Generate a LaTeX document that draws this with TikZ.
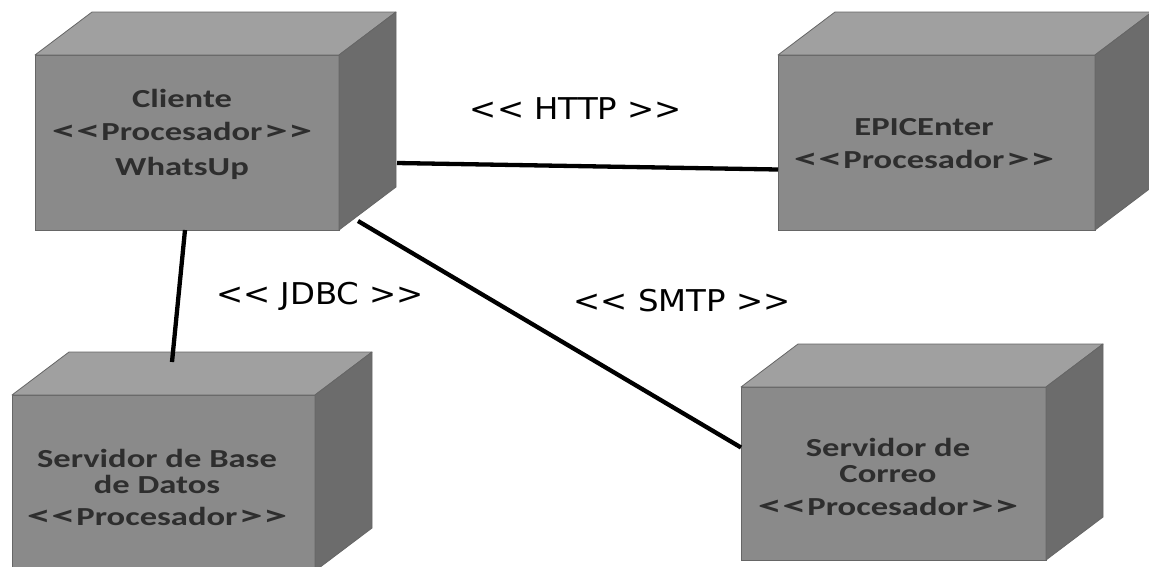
\documentclass[tikz,border=0pt]{standalone}
\usepackage{fontspec}
\usepackage{graphicx}
\usetikzlibrary{calc}
\newfontfamily\boxfont{Carlito}[FakeStretch=1.33]
\newfontfamily\tagfont{DejaVu Sans}[FakeStretch=1.08]
% keep << and >> as two separate glyphs (no guillemet mapping)
\newcommand\ltlt{<\kern0pt<}
\newcommand\gtgt{>\kern0pt>}
% wider chevrons for the block captions
\newcommand\boxlt{\scalebox{1.4}[1.1]{<}\kern0.5pt\scalebox{1.4}[1.1]{<}\kern1pt}
\newcommand\boxgt{\kern1pt\scalebox{1.4}[1.1]{>}\kern0.5pt\scalebox{1.4}[1.1]{>}}
\definecolor{frontgray}{HTML}{8A8A8A}
\definecolor{topgray}{HTML}{A0A0A0}
\definecolor{sidegray}{HTML}{6C6C6C}
\definecolor{edgegray}{HTML}{666666}
\definecolor{inkgray}{HTML}{2E2E2E}
\tikzset{
  front/.style={rectangle, fill=frontgray, draw=edgegray, line width=0.8pt,
    inner sep=0pt, outer sep=0pt},
  topface/.style={fill=topgray, draw=edgegray, line width=0.8pt, line join=round},
  sideface/.style={fill=sidegray, draw=edgegray, line width=0.8pt, line join=round},
  boxtext/.style={font=\boxfont\bfseries\fontsize{26}{26}\selectfont, text=inkgray,
    align=center, inner sep=0pt, anchor=base},
  tag/.style={font=\tagfont\fontsize{30}{30}\selectfont, text=black,
    inner sep=0pt, anchor=base},
  link/.style={line width=4.3pt, black},
}
% top and right faces of a node drawn as a 3D block
\newcommand\blockfaces[1]{%
  \filldraw[topface] (#1.north west) -- ++(57,-43)
    -- ($(#1.north east)+(57,-43)$) -- (#1.north east) -- cycle;
  \filldraw[sideface] (#1.north east) -- ++(57,-43)
    -- ($(#1.south east)+(57,-43)$) -- (#1.south east) -- cycle;
}
\begin{document}
\begin{tikzpicture}[x=1pt, y=-1pt]
\useasboundingbox (0,0) rectangle (1149,566);

% blocks
\node[front, minimum width=304pt, minimum height=175pt] (cliente) at (187,142.5) {};
\node[front, minimum width=317pt, minimum height=175pt] (epic) at (936.5,142.5) {};
\node[front, minimum width=303pt, minimum height=176pt] (db) at (163.5,483) {};
\node[front, minimum width=305pt, minimum height=173pt] (correo) at (893.5,473.5) {};
\blockfaces{cliente}
\blockfaces{epic}
\blockfaces{db}
\blockfaces{correo}

% block captions (anchored on the baseline of the last line)
\node[boxtext] (cliente-t) at (182,175) {Cliente\\[7pt]\boxlt Procesador\boxgt\\[9pt]WhatsUp};
\node[boxtext] (epic-t) at (924,168) {EPICEnter\\[7pt]\boxlt Procesador\boxgt};
\node[boxtext] (db-t) at (157,525) {Servidor de Base\\de Datos\\[6pt]\boxlt Procesador\boxgt};
\node[boxtext] (correo-t) at (888,515) {Servidor de\\Correo\\[7pt]\boxlt Procesador\boxgt};

% connectors
\draw[link] ($(cliente.north east)+(58,108)$) -- ($(epic.west)+(0,27)$);
\draw[link] ($(cliente.south)+(-2,0)$) -- ($(db.north)+(8.5,-33)$);
\draw[link] ($(cliente.south east)+(19,-9)$) -- ($(correo.west)+(0,-26)$);

% connector stereotypes
\node[tag] (http) at (576,119) {\ltlt{} HTTP \gtgt};
\node[tag] (jdbc) at (320,304) {\ltlt{} JDBC \gtgt};
\node[tag] (smtp) at (682,311) {\ltlt{} SMTP \gtgt};
\end{tikzpicture}
\end{document}
